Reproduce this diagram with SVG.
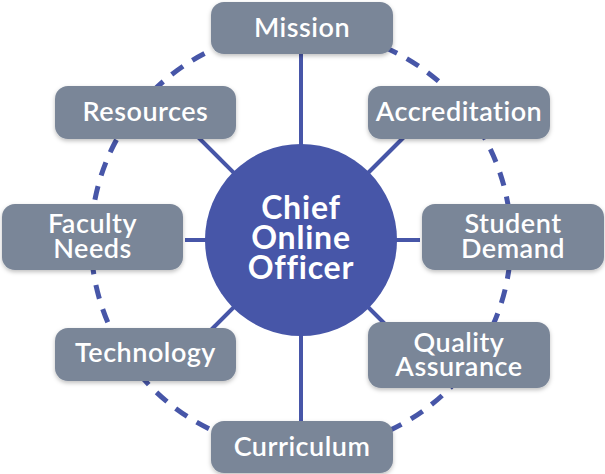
<svg xmlns="http://www.w3.org/2000/svg" width="605" height="474" viewBox="0 0 605 474">
<defs>
<style>
.box{fill:#7a8698;filter:url(#sh);}
.lbl{font-family:Lato,"Open Sans","Liberation Sans",sans-serif;font-weight:600;font-size:27px;letter-spacing:0.5px;fill:#ffffff;text-anchor:middle;}
.ctr{font-family:Lato,"Open Sans","Liberation Sans",sans-serif;font-weight:700;font-size:32px;letter-spacing:0.8px;fill:#ffffff;text-anchor:middle;}
.spoke{stroke:#4756a8;stroke-width:4;fill:none;}
.ring{stroke:#4756a8;stroke-width:5;fill:none;stroke-dasharray:14 11;}
</style>
<filter id="sh" x="-10%" y="-20%" width="120%" height="150%">
<feDropShadow dx="0" dy="2" stdDeviation="2" flood-color="#000" flood-opacity="0.25"/>
</filter>
</defs>
<rect width="605" height="474" fill="#ffffff"/>
<g id="connectors">
<circle class="ring" cx="301" cy="240" r="210"/>
<line class="spoke" x1="301" y1="240" x2="301" y2="50"/>
<line class="spoke" x1="301" y1="240" x2="301" y2="425"/>
<line class="spoke" x1="301" y1="240" x2="185" y2="240"/>
<line class="spoke" x1="301" y1="240" x2="420" y2="240"/>
<line class="spoke" x1="301" y1="240" x2="198" y2="137"/>
<line class="spoke" x1="301" y1="240" x2="404" y2="137"/>
<line class="spoke" x1="301" y1="240" x2="211" y2="330"/>
<line class="spoke" x1="301" y1="240" x2="385" y2="324"/>
</g>
<g id="center">
<circle cx="301" cy="240" r="96" fill="#4756a8"/>
<text class="ctr" x="301" y="219">Chief</text>
<text class="ctr" x="301" y="249">Online</text>
<text class="ctr" x="301" y="279">Officer</text>
</g>
<g id="mission">
<rect class="box" x="211" y="2" width="182" height="52" rx="13"/>
<text class="lbl" x="302" y="37">Mission</text>
</g>
<g id="resources">
<rect class="box" x="55" y="86" width="181" height="53" rx="13"/>
<text class="lbl" x="145.5" y="121">Resources</text>
</g>
<g id="accreditation">
<rect class="box" x="368" y="86" width="182" height="53" rx="13"/>
<text class="lbl" x="459" y="121">Accreditation</text>
</g>
<g id="faculty-needs">
<rect class="box" x="2" y="204" width="181" height="66" rx="13"/>
<text class="lbl" x="92.5" y="233">Faculty</text>
<text class="lbl" x="92.5" y="258">Needs</text>
</g>
<g id="student-demand">
<rect class="box" x="422" y="204" width="182" height="66" rx="13"/>
<text class="lbl" x="513" y="233">Student</text>
<text class="lbl" x="513" y="258">Demand</text>
</g>
<g id="technology">
<rect class="box" x="55" y="328" width="181" height="53" rx="13"/>
<text class="lbl" x="145.5" y="362">Technology</text>
</g>
<g id="quality-assurance">
<rect class="box" x="368" y="322" width="182" height="66" rx="13"/>
<text class="lbl" x="459" y="352">Quality</text>
<text class="lbl" x="459" y="376">Assurance</text>
</g>
<g id="curriculum">
<rect class="box" x="211" y="421" width="182" height="52" rx="13"/>
<text class="lbl" x="302" y="456">Curriculum</text>
</g>
</svg>
